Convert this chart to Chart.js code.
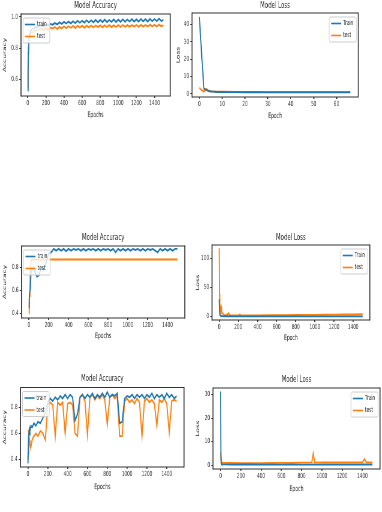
<!DOCTYPE html>
<html>
<head>
<meta charset="utf-8">
<script src="https://cdn.jsdelivr.net/npm/chart.js@4.4.0/dist/chart.umd.min.js"></script>
<style>
  body { margin: 0; width: 382px; height: 512px; background: #fff; position: relative; overflow: hidden; }
  canvas { position: absolute; transform-origin: 0 0; }
</style>
</head>
<body>
<script>
// ---- data ----
const accEpochs = [0, 3, 6, 10, 15, 20, 30, 45, 60, 80, 100,
  125, 150, 175, 200, 225, 250, 275, 300, 325, 350,
  375, 400, 425, 450, 475, 500, 525, 550, 575, 600,
  625, 650, 675, 700, 725, 750, 775, 800, 825, 850,
  875, 900, 925, 950, 975, 1000, 1025, 1050, 1075, 1100,
  1125, 1150, 1175, 1200, 1225, 1250, 1275, 1300, 1325, 1350,
  1375, 1400, 1425, 1450, 1475, 1499];

// run 1: accuracy
const train1 = [0.53, 0.64, 0.77, 0.82, 0.87, 0.89, 0.91, 0.92, 0.925, 0.93, 0.935,
  0.94, 0.945, 0.94, 0.95, 0.945, 0.955, 0.95, 0.96, 0.952, 0.965,
  0.955, 0.968, 0.957, 0.97, 0.958, 0.972, 0.96, 0.975, 0.962, 0.975,
  0.963, 0.978, 0.964, 0.978, 0.965, 0.98, 0.965, 0.98, 0.966, 0.982,
  0.966, 0.98, 0.968, 0.983, 0.967, 0.982, 0.968, 0.984, 0.968, 0.983,
  0.97, 0.985, 0.97, 0.984, 0.97, 0.986, 0.971, 0.985, 0.97, 0.987,
  0.972, 0.986, 0.972, 0.988, 0.973, 0.98];
const test1 = [0.55, 0.70, 0.80, 0.84, 0.86, 0.88, 0.89, 0.90, 0.905, 0.91, 0.915,
  0.92, 0.925, 0.915, 0.93, 0.92, 0.932, 0.925, 0.935, 0.922, 0.936,
  0.926, 0.94, 0.928, 0.94, 0.93, 0.942, 0.928, 0.943, 0.932, 0.944,
  0.93, 0.944, 0.933, 0.945, 0.932, 0.945, 0.934, 0.946, 0.933, 0.946,
  0.935, 0.947, 0.934, 0.946, 0.935, 0.947, 0.935, 0.948, 0.936, 0.947,
  0.936, 0.948, 0.937, 0.948, 0.936, 0.949, 0.937, 0.948, 0.938, 0.95,
  0.938, 0.949, 0.938, 0.95, 0.94, 0.945];

// run 1: loss
const lossEpochs2 = [0, 1, 2, 3, 4, 5, 6, 7, 8, 10, 12, 15, 20, 25, 30, 35, 40, 45, 50, 55, 60, 66];
const train2 = [44.5, 23, 3.0, 2.2, 1.6, 1.3, 1.2, 1.1, 1.0, 0.95, 0.9, 0.9, 0.85, 0.85, 0.8, 0.8, 0.8, 0.78, 0.78, 0.75, 0.75, 0.75];
const test2 = [3.5, 2.0, 1.2, 2.8, 1.8, 1.5, 1.3, 1.2, 1.2, 1.1, 1.1, 1.05, 1.0, 1.0, 1.0, 0.98, 0.98, 0.97, 0.97, 0.96, 0.96, 0.95];

// run 2: accuracy
const train3 = [0.45, 0.52, 0.57, 0.57, 0.62, 0.75, 0.78, 0.80, 0.76, 0.72, 0.73,
  0.80, 0.78, 0.85, 0.92, 0.93, 0.96, 0.945, 0.96, 0.945, 0.96,
  0.94, 0.96, 0.945, 0.96, 0.95, 0.96, 0.945, 0.96, 0.945, 0.96,
  0.95, 0.96, 0.945, 0.96, 0.945, 0.96, 0.95, 0.96, 0.945, 0.96,
  0.93, 0.96, 0.945, 0.96, 0.945, 0.96, 0.945, 0.96, 0.95, 0.96,
  0.945, 0.96, 0.945, 0.96, 0.95, 0.96, 0.945, 0.93, 0.96, 0.945,
  0.96, 0.945, 0.96, 0.945, 0.96, 0.96];
const test3Epochs = [0, 3, 6, 10, 15, 20, 30, 45, 100, 300, 500, 700, 900, 1100, 1300, 1499];
const test3 = [0.40, 0.48, 0.55, 0.65, 0.78, 0.84, 0.868, 0.868, 0.868, 0.868, 0.868, 0.868, 0.868, 0.868, 0.868, 0.868];

// run 2: loss
const lossEpochs4 = [0, 3, 6, 10, 15, 20, 25, 30, 40, 50, 75, 100, 110, 150, 200, 215, 230, 300,
  400, 500, 600, 700, 800, 900, 1000, 1100, 1200, 1300, 1400, 1499];
const train4 = [30, 10, 4, 2, 1.5, 1.2, 1, 0.9, 0.8, 0.7, 0.6, 0.6, 0.6, 0.5, 0.5, 0.5, 0.5, 0.5,
  0.4, 0.4, 0.4, 0.4, 0.4, 0.4, 0.4, 0.4, 0.4, 0.4, 0.4, 0.4];
const test4 = [118, 40, 18, 12, 16, 8, 14, 6, 5, 3, 2.5, 6, 2, 2, 2.2, 3.5, 2, 2,
  2.2, 2.3, 2.5, 2.6, 2.8, 3, 3.1, 3.3, 3.5, 3.6, 3.8, 4];

// run 3: accuracy
const train5 = [0.37, 0.45, 0.55, 0.60, 0.64, 0.62, 0.66, 0.65, 0.68, 0.66, 0.69,
  0.68, 0.72, 0.76, 0.84, 0.87, 0.85, 0.88, 0.86, 0.89, 0.87,
  0.90, 0.87, 0.90, 0.88, 0.70, 0.75, 0.88, 0.90, 0.87, 0.90,
  0.88, 0.91, 0.87, 0.90, 0.88, 0.91, 0.88, 0.92, 0.88, 0.90,
  0.89, 0.91, 0.68, 0.69, 0.87, 0.89, 0.88, 0.90, 0.87, 0.90,
  0.88, 0.90, 0.87, 0.90, 0.88, 0.91, 0.87, 0.90, 0.88, 0.90,
  0.87, 0.91, 0.88, 0.90, 0.87, 0.89];
const test5 = [0.40, 0.52, 0.63, 0.58, 0.55, 0.52, 0.50, 0.56, 0.58, 0.60, 0.58,
  0.62, 0.60, 0.55, 0.82, 0.84, 0.82, 0.58, 0.84, 0.82, 0.84,
  0.60, 0.83, 0.84, 0.82, 0.60, 0.58, 0.88, 0.90, 0.85, 0.59,
  0.88, 0.90, 0.86, 0.89, 0.87, 0.90, 0.86, 0.67, 0.88, 0.90,
  0.87, 0.89, 0.58, 0.58, 0.85, 0.87, 0.84, 0.86, 0.83, 0.87,
  0.84, 0.58, 0.85, 0.87, 0.84, 0.86, 0.83, 0.66, 0.86, 0.84,
  0.87, 0.83, 0.61, 0.85, 0.86, 0.85];

// run 3: loss
const lossEpochs6 = [0, 3, 6, 10, 20, 50, 100, 200, 300, 400, 500, 600, 700, 800, 900, 915, 930,
  1000, 1100, 1200, 1300, 1400, 1420, 1440, 1499];
const train6 = [31.3, 5, 1, 0.5, 0.4, 0.35, 0.3, 0.3, 0.3, 0.25, 0.3, 0.25, 0.3, 0.25, 0.25, 0.3, 0.25,
  0.3, 0.3, 0.3, 0.3, 0.3, 0.3, 0.3, 0.3];
const test6 = [5.5, 2, 1.5, 1.2, 1.1, 1.0, 1.0, 0.9, 0.9, 0.9, 1.0, 1.0, 1.0, 1.1, 1.1, 5.0, 1.1,
  1.2, 1.2, 1.2, 1.2, 1.2, 2.6, 1.2, 1.2];

// tick labels
const epochTicks = [0, 200, 400, 600, 800, 1000, 1200, 1400];
const epochTicks2 = [0, 10, 20, 30, 40, 50, 60];
const accTicks1 = [0.6, 0.8, 1.0];
const accTicks = [0.4, 0.6, 0.8];
const lossTicks2 = [0, 10, 20, 30, 40];
const lossTicks4 = [0, 50, 100];
const lossTicks6 = [0, 10, 20, 30];

// ---- drawing ----
const SX = 0.6; // the picture is squeezed sideways
const FONT = "'DejaVu Sans', sans-serif";
const BLUE = "#1f77b4";
const ORANGE = "#ff7f0e";

function pts(xs, ys) {
  return xs.map((x, i) => ({ x: x, y: ys[i] }));
}

// matplotlib style box around the plot
const framePlugin = {
  id: "frame",
  afterDraw(chart) {
    const { ctx, chartArea: a } = chart;
    ctx.save();
    ctx.fillStyle = "#333";
    ctx.fillRect(a.left, a.top - 0.5, a.right - a.left, 1);
    ctx.fillRect(a.left, a.bottom - 0.5, a.right - a.left, 1);
    ctx.fillRect(a.left - 0.5 / SX, a.top - 0.5, 1 / SX, a.bottom - a.top + 1);
    ctx.fillRect(a.right - 0.5 / SX, a.top - 0.5, 1 / SX, a.bottom - a.top + 1);
    ctx.restore();
  }
};

// legend box inside the plot
const legendPlugin = {
  id: "boxLegend",
  afterDraw(chart, args, opts) {
    const { ctx, chartArea: a } = chart;
    const items = chart.data.datasets;
    ctx.save();
    ctx.font = "7px " + FONT;
    const textW = Math.max(...items.map(d => ctx.measureText(d.label).width));
    const w = 14 / SX + textW + 3 / SX;
    const h = 25;
    const x = opts.side === "right" ? a.right - 2 / SX - w : a.left + 2 / SX;
    const y = a.top + 4;
    ctx.fillStyle = "rgba(255,255,255,0.8)";
    ctx.strokeStyle = "#ccc";
    ctx.lineWidth = 1;
    ctx.beginPath();
    ctx.roundRect(x, y, w, h, 2);
    ctx.fill();
    ctx.stroke();
    items.forEach((d, i) => {
      const ly = y + 6.5 + i * 12;
      ctx.strokeStyle = d.borderColor;
      ctx.lineWidth = 1.6;
      ctx.beginPath();
      ctx.moveTo(x + 2 / SX, ly);
      ctx.lineTo(x + 12 / SX, ly);
      ctx.stroke();
      ctx.fillStyle = "#222";
      ctx.textBaseline = "middle";
      ctx.fillText(d.label, x + 14 / SX, ly);
    });
    ctx.restore();
  }
};

function drawChart(g, o) {
  const c = document.createElement("canvas");
  c.width = Math.round(g.w / SX);
  c.height = g.h;
  c.style.left = g.x + "px";
  c.style.top = g.y + "px";
  c.style.transform = "scaleX(" + SX + ")";
  document.body.appendChild(c);

  const titleLH = 9 * 1.2;
  const titleTop = g.titleY - g.y - titleLH / 2;
  const axisLH = 7.5 * 1.2;

  new Chart(c, {
    type: "line",
    data: {
      datasets: o.series.map(s => ({
        label: s.label,
        data: pts(s.xs, s.ys),
        borderColor: s.color,
        backgroundColor: s.color,
        borderWidth: 1.9,
        pointRadius: 0,
        tension: 0
      }))
    },
    plugins: [framePlugin, legendPlugin],
    options: {
      responsive: false,
      animation: false,
      events: [],
      layout: { padding: { left: 0, top: 0, bottom: 0, right: (g.x + g.w - g.r) / SX } },
      plugins: {
        legend: { display: false },
        tooltip: { enabled: false },
        title: {
          display: true,
          text: o.title,
          fullSize: false,
          color: "#222",
          font: { family: FONT, size: 9, weight: "normal" },
          padding: { top: titleTop, bottom: g.t - g.y - titleLH - titleTop }
        },
        boxLegend: { side: o.side }
      },
      scales: {
        x: {
          type: "linear",
          min: o.xMin,
          max: o.xMax,
          afterBuildTicks: s => { s.ticks = o.xTicks.map(v => ({ value: v })); },
          afterFit: s => { s.height = g.y + g.h - g.b; s.paddingLeft = 0; s.paddingRight = 0; },
          ticks: {
            autoSkip: false, maxRotation: 0, padding: 1, color: "#333",
            font: { family: FONT, size: 7 },
            callback: v => String(v)
          },
          grid: { drawOnChartArea: false, tickLength: 2, color: "#333", lineWidth: 1 / SX },
          border: { display: false },
          title: {
            display: true, text: o.xTitle, color: "#222",
            font: { family: FONT, size: 7.5 },
            padding: { top: 0, bottom: g.y + g.h - g.xt - axisLH / 2 }
          }
        },
        y: {
          min: o.yMin,
          max: o.yMax,
          afterBuildTicks: s => { s.ticks = o.yTicks.map(v => ({ value: v })); },
          afterFit: s => { s.width = (g.l - g.x) / SX; s.paddingTop = 0; s.paddingBottom = 0; },
          ticks: {
            padding: 2, color: "#333", font: { family: FONT, size: 7 },
            callback: v => (o.digits ? v.toFixed(o.digits) : String(v))
          },
          grid: { drawOnChartArea: false, tickLength: 3, color: "#333", lineWidth: 1 },
          border: { display: false },
          title: {
            display: true, text: o.yTitle, color: "#222",
            font: { family: FONT, size: 7.5 },
            padding: { top: (g.yt - g.x) / SX - axisLH / 2, bottom: 0 }
          }
        }
      }
    }
  });
}

drawChart(
  { x: 0, y: 0, w: 172, h: 121, l: 21, r: 170, t: 14, b: 96, titleY: 6, xt: 115, yt: 5 },
  {
    title: "Model Accuracy", xTitle: "Epochs", yTitle: "Accuracy", side: "left",
    xMin: -75, xMax: 1574, yMin: 0.495, yMax: 1.018, xTicks: epochTicks, yTicks: accTicks1, digits: 1,
    series: [
      { label: "train", xs: accEpochs, ys: train1, color: BLUE },
      { label: "test", xs: accEpochs, ys: test1, color: ORANGE }
    ]
  }
);

drawChart(
  { x: 176, y: 0, w: 184, h: 122, l: 192, r: 358, t: 13, b: 97, titleY: 6, xt: 116, yt: 178.5 },
  {
    title: "Model Loss", xTitle: "Epoch", yTitle: "Loss", side: "right",
    xMin: -3.2, xMax: 69.5, yMin: -1.9, yMax: 46.7, xTicks: epochTicks2, yTicks: lossTicks2, digits: 0,
    series: [
      { label: "Train", xs: lossEpochs2, ys: train2, color: BLUE },
      { label: "test", xs: lossEpochs2, ys: test2, color: ORANGE }
    ]
  }
);

drawChart(
  { x: 0, y: 230, w: 188, h: 112, l: 21.5, r: 185, t: 246, b: 318, titleY: 238, xt: 336, yt: 5 },
  {
    title: "Model Accuracy", xTitle: "Epochs", yTitle: "Accuracy", side: "left",
    xMin: -75, xMax: 1574, yMin: 0.36, yMax: 0.985, xTicks: epochTicks, yTicks: accTicks, digits: 1,
    series: [
      { label: "train", xs: accEpochs, ys: train3, color: BLUE },
      { label: "test", xs: test3Epochs, ys: test3, color: ORANGE }
    ]
  }
);

drawChart(
  { x: 190, y: 230, w: 182, h: 114, l: 212, r: 370, t: 245, b: 320, titleY: 238, xt: 338, yt: 197.7 },
  {
    title: "Model Loss", xTitle: "Epoch", yTitle: "Loss", side: "right",
    xMin: -75, xMax: 1574, yMin: -5.8, yMax: 123.5, xTicks: epochTicks, yTicks: lossTicks4, digits: 0,
    series: [
      { label: "Train", xs: lossEpochs4, ys: train4, color: BLUE },
      { label: "test", xs: lossEpochs4, ys: test4, color: ORANGE }
    ]
  }
);

drawChart(
  { x: 0, y: 370, w: 186, h: 123, l: 20.5, r: 184, t: 387.5, b: 467, titleY: 379, xt: 487, yt: 5 },
  {
    title: "Model Accuracy", xTitle: "Epochs", yTitle: "Accuracy", side: "left",
    xMin: -75, xMax: 1574, yMin: 0.342, yMax: 0.955, xTicks: epochTicks, yTicks: accTicks, digits: 1,
    series: [
      { label: "train", xs: accEpochs, ys: train5, color: BLUE },
      { label: "test", xs: accEpochs, ys: test5, color: ORANGE }
    ]
  }
);

drawChart(
  { x: 190, y: 370, w: 192, h: 125, l: 213, r: 380, t: 388, b: 469, titleY: 380, xt: 489, yt: 198 },
  {
    title: "Model Loss", xTitle: "Epoch", yTitle: "Loss", side: "right",
    xMin: -75, xMax: 1574, yMin: -1.6, yMax: 32.8, xTicks: epochTicks, yTicks: lossTicks6, digits: 0,
    series: [
      { label: "Train", xs: lossEpochs6, ys: train6, color: BLUE },
      { label: "test", xs: lossEpochs6, ys: test6, color: ORANGE }
    ]
  }
);
</script>
</body>
</html>
